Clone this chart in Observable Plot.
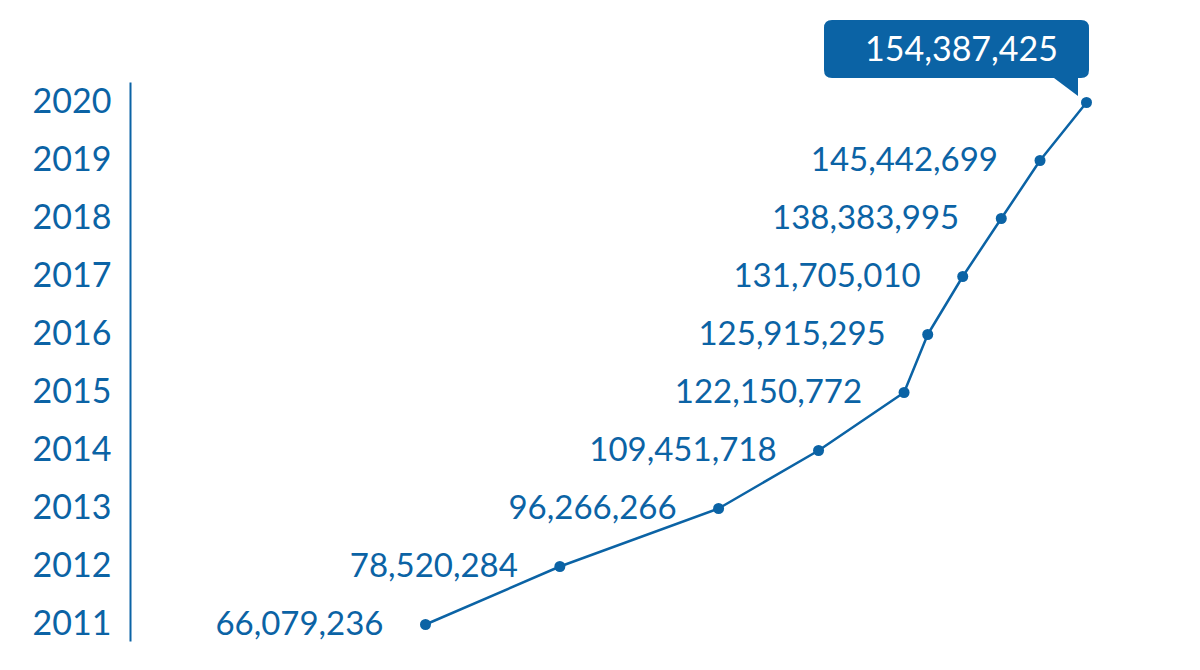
<!DOCTYPE html>
<html><head><meta charset="utf-8">
<script src="https://cdn.jsdelivr.net/npm/d3@7"></script>
<script src="https://cdn.jsdelivr.net/npm/@observablehq/plot@0.6"></script>
<style>
html,body{margin:0;padding:0;background:#fff;}
#chart svg{display:block;}
</style></head><body><div id="chart"></div>
<script>
const years = [2011, 2012, 2013, 2014, 2015, 2016, 2017, 2018, 2019, 2020];
const values = [66079236, 78520284, 96266266, 109451718, 122150772, 125915295, 131705010, 138383995, 145442699, 154387425];
const highlightYear = 2020;

const blue = "#0b63a5";
const fmt = d3.format(",");
const data = years.map((year, i) => ({year, value: values[i]}));
const labelled = data.filter(d => d.year !== highlightYear);
const highlight = data.filter(d => d.year === highlightYear);

function callout(rows) {
  return (index, scales, vals, dimensions, context) => {
    const ns = "http://www.w3.org/2000/svg";
    const g = d3.select(context.document.createElementNS(ns, "g"));
    for (const d of rows) {
      const px = scales.x(d.value), py = scales.y(d.year);
      const left = px - 262, right = px + 3, top = py - 82, bottom = py - 24, r = 8;
      const tipX = px - 8, tipY = py - 6;
      const path = `M${left + r},${top} H${right - r} Q${right},${top} ${right},${top + r} V${bottom - r} Q${right},${bottom} ${right - r},${bottom} H${tipX} V${tipY} L${px - 32},${bottom} H${left + r} Q${left},${bottom} ${left},${bottom - r} V${top + r} Q${left},${top} ${left + r},${top} Z`;
      g.append("path").attr("d", path).attr("fill", blue);
      g.append("text")
        .attr("x", (left + right) / 2 + 5)
        .attr("y", (top + bottom) / 2)
        .attr("dy", "0.35em")
        .attr("text-anchor", "middle")
        .attr("fill", "white")
        .attr("font-size", 34)
        .text(fmt(d.value));
    }
    return g.node();
  };
}

const chart = Plot.plot({
  width: 1200,
  height: 670,
  marginLeft: 130,
  marginTop: 83,
  marginBottom: 30,
  marginRight: 20,
  x: {type: "log", domain: [values[0], values[values.length - 1]], range: [425, 1086], axis: null},
  y: {type: "point", domain: years.slice().reverse(), range: [98, 628], padding: 0, axis: null},
  style: {fontFamily: "Lato, 'Open Sans', sans-serif", color: blue, background: "white"},
  marks: [
    Plot.frame({anchor: "left", stroke: blue, strokeWidth: 2}),
    Plot.text(years, {y: d => d, text: d => String(d), frameAnchor: "left", dx: -98, textAnchor: "start", fontSize: 34, fill: blue}),
    Plot.line(data, {x: "value", y: "year", stroke: blue, strokeWidth: 2.5}),
    Plot.dot(data, {x: "value", y: "year", r: 5.5, fill: blue}),
    Plot.text(labelled, {x: "value", y: "year", text: d => fmt(d.value), textAnchor: "end", dx: -42, fontSize: 33, fill: blue}),
    callout(highlight)
  ]
});
document.getElementById("chart").appendChild(chart);
</script>
</body></html>
